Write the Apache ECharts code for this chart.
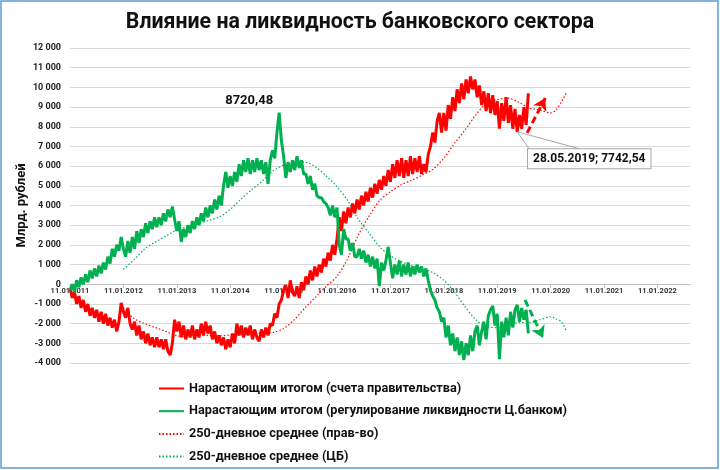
<!DOCTYPE html>
<html>
<head>
<meta charset="utf-8">
<script src="https://cdn.jsdelivr.net/npm/echarts@6/dist/echarts.min.js"></script>
<style>html,body{margin:0;padding:0;background:#fff}#c{width:720px;height:470px}</style>
</head>
<body>
<div id="c"></div>
<script>
// x positions are years elapsed since 11.01.2011
var startYear = 2011;
var xTickYears = [2011,2012,2013,2014,2015,2016,2017,2018,2019,2020,2021,2022];
var stepsPerYear = 24; // raw series sampled twice a month

var govValues = [
 -200,-700,-400,-1000,-600,-1200,-800,-1400,-1000,-1600,-1200,-1700,-1300,-1900,-1400,-2000,-1500,-2100,-1700,-2200,-1800,-2400,-1900,-950,
 -1400,-1700,-1200,-2000,-2300,-1900,-2600,-2100,-2800,-2400,-3000,-2500,-3100,-2700,-3200,-2700,-3200,-2800,-3300,-2800,-3400,-3600,-3000,-1800,
 -2400,-1900,-2700,-2100,-2800,-2300,-2700,-2100,-2800,-2300,-2700,-2000,-2600,-1900,-2500,-2100,-2800,-2400,-3000,-2600,-3100,-2700,-3300,-2800,
 -3200,-2500,-3000,-2000,-2600,-2100,-2700,-2200,-2600,-2100,-2800,-2300,-2700,-2900,-2300,-2700,-2200,-2600,-2000,-2100,-1500,-1700,-1000,-800,
 -300,-50,-700,200,-400,-600,-100,-700,100,-300,400,0,700,200,900,400,1000,600,1300,900,1600,1200,2000,1500,
 2300,3400,2700,3700,3100,3900,3400,4100,3600,4300,3800,4500,4000,4700,4200,4900,4400,5100,4600,5300,4800,5500,5000,5800,
 5200,6100,5400,6300,5500,6400,5400,6300,5500,6500,5600,6400,5700,6500,5600,6100,5700,6600,7000,7700,7200,8300,8700,7700,
 8700,7800,9100,8400,9500,8800,9900,9200,10200,9400,10400,9700,10550,9900,10400,9500,10100,9100,9800,8800,9700,8700,9600,8600,
 9300,7900,9200,8300,9500,8200,9100,7900,8900,7742.54,8600,7900,9000,8100,9700
];
var cbValues = [
 -300,0,-400,200,-150,350,0,500,100,700,300,800,400,950,550,1100,750,1400,1050,1800,1400,2000,1700,2400,
 1800,1400,2200,1600,2400,1800,2700,2100,2800,2400,3100,2600,3200,2800,3400,2900,3400,3000,3600,3200,3800,3400,3950,3300,
 2700,3200,2150,2800,2400,3000,2600,3200,2800,3400,3000,3600,3200,3900,3400,4000,3600,4300,3800,4500,4000,5000,5700,4900,
 5500,5000,5700,5200,6100,5500,6300,5700,6400,5600,6300,5700,6400,5800,6300,5600,6200,5100,6300,6800,6400,7700,8720.48,7300,
 6500,5400,6200,5700,6300,5800,6500,5900,6300,5600,5600,5100,5500,4800,5100,4500,4400,4400,4200,4100,3900,3500,4000,3400,
 3900,2000,1500,2800,2300,2300,1700,2100,1400,1400,1800,1300,1700,1100,1500,900,1400,800,1300,-100,1100,700,1200,1900,
 1100,300,1000,500,1200,400,1000,500,1100,400,900,500,1000,600,900,400,800,200,-300,-600,-800,-1200,-1400,-1900,
 -1700,-2700,-2100,-3100,-2500,-3400,-2700,-3600,-2900,-3850,-3000,-3600,-2600,-3400,-2400,-2100,-3100,-2400,-1900,-2800,-1600,-1300,-1100,-2100,
 -1500,-3800,-1900,-2700,-1700,-2600,-1400,-2200,-1300,-1050,-1900,-1200,-1800,-1300,-2500
];
var maT = [1.0,1.2,1.4,1.6,1.8,2.0,2.2,2.4,2.6,2.8,3.0,3.2,3.4,3.6,3.8,4.0,4.2,4.4,4.6,4.8,5.0,5.2,5.4,5.6,5.8,6.0,6.2,6.4,6.6,6.8,7.0,7.2,7.4,7.6,7.8,8.0,8.2,8.4,8.6,8.8,9.0,9.1,9.2,9.29];
var govMA = [-1200,-1750,-2000,-2200,-2400,-2620,-2650,-2550,-2600,-2620,-2580,-2560,-2520,-2480,-2450,-2250,-1800,-1200,-650,-100,400,1300,2500,3450,4250,4700,5050,5280,5550,5850,6400,7150,7850,8600,9200,9380,9450,9250,8950,8850,8700,8850,9250,9700];
var cbMA = [750,1250,1800,2150,2450,2760,2920,3080,3250,3420,3800,4320,4800,5250,5750,6050,6180,6200,5950,5500,4950,4250,3300,2600,1900,1450,1150,950,800,580,200,-400,-1150,-1800,-2150,-2200,-2050,-1950,-1950,-1800,-1650,-1750,-1900,-2350];

var seriesNames = [
 'Нарастающим итогом (счета правительства)',
 'Нарастающим итогом (регулирование ликвидности Ц.банком)',
 '250-дневное среднее (прав-во)',
 '250-дневное среднее (ЦБ)'
];
// annotations (data coordinates)
var peakPoint = [3 + 22/24, 8720.48];
var peakLabel = '8720,48';
var lowPoint = [8 + 9/24, 7742.54];
var lowLabel = '28.05.2019; 7742,54';
var calloutCorners = [[8.60, 6875], [9.55, 6875]];
var redArrow = [[8.56, 7690], [8.90, 9460]];
var greenArrow = [[8.52, -800], [8.86, -2730]];

function pairs(xs, ys) { return ys.map(function (v, i) { return [xs[i], v]; }); }
var rawT = govValues.map(function (v, i) { return i / stepsPerYear; });

var RED = '#ff0000', GREEN = '#00b050';
var FONT = 'Roboto';

function fmtY(v) {
  var s = String(Math.abs(v));
  if (s.length > 3) s = s.slice(0, s.length - 3) + ' ' + s.slice(-3);
  return (v < 0 ? '-' : '') + s;
}

var chart = echarts.init(document.getElementById('c'), null, {renderer: 'canvas'});
chart.setOption({
  animation: false,
  backgroundColor: '#fff',
  title: {
    text: 'Влияние на ликвидность банковского сектора',
    left: 'center', top: 7,
    textStyle: {fontFamily: FONT, fontWeight: 'bold', fontSize: 21.3, color: '#111'}
  },
  graphic: [{
    type: 'rect', shape: {x: 1, y: 1, width: 717, height: 467},
    style: {fill: 'none', stroke: '#5b9bd5', lineWidth: 1.5}, silent: true
  }],
  legend: {
    orient: 'vertical', left: 153, top: 377,
    itemWidth: 25, itemHeight: 14, itemGap: 9.7,
    data: seriesNames,
    itemStyle: {color: 'rgba(0,0,0,0)', borderColor: 'rgba(0,0,0,0)', borderWidth: 0},
    textStyle: {fontFamily: FONT, fontWeight: 'bold', fontSize: 12.7, color: '#111'}
  },
  grid: {left: 70, right: 30, top: 48, bottom: 107, containLabel: false},
  xAxis: {
    type: 'value', min: 0, max: 11.61, interval: 1, position: 'bottom', offset: -78.75,
    axisLine: {onZero: false, lineStyle: {color: '#bfbfbf'}},
    axisTick: {show: true, length: 4, lineStyle: {color: '#bfbfbf'}},
    splitLine: {show: false},
    axisLabel: {
      margin: 3, showMaxLabel: false,
      fontFamily: FONT, fontWeight: 'bold', fontSize: 7.5, color: '#333',
      formatter: function (v) {
        var k = Math.round(v);
        return Math.abs(v - k) < 1e-6 && xTickYears.indexOf(startYear + k) >= 0 ? '11.01.' + (startYear + k) : '';
      }
    }
  },
  yAxis: {
    type: 'value', min: -4000, max: 12000, interval: 1000,
    name: 'Млрд. рублей', nameLocation: 'middle', nameGap: 42, nameRotate: 90, nameMoveOverlap: false,
    nameTextStyle: {fontFamily: FONT, fontWeight: 'bold', fontSize: 13, color: '#111'},
    axisLine: {show: false, onZero: false}, axisTick: {show: false},
    splitLine: {lineStyle: {color: '#d9d9d9', width: 1}},
    axisLabel: {margin: 9, fontFamily: FONT, fontWeight: 'bold', fontSize: 9, color: '#222', formatter: fmtY}
  },
  series: [
    {
      name: seriesNames[0], type: 'line', data: pairs(rawT, govValues),
      symbol: 'none', lineStyle: {color: RED, width: 3}, itemStyle: {color: RED},
      markPoint: {
        symbol: 'circle', symbolSize: 1, itemStyle: {color: 'rgba(0,0,0,0)'},
        label: {
          show: true, formatter: lowLabel, offset: [72, 27],
          fontFamily: FONT, fontWeight: 'bold', fontSize: 12, color: '#111',
          backgroundColor: '#fff', borderColor: '#a6a6a6', borderWidth: 1, padding: [4, 5, 3, 5]
        },
        data: [{coord: lowPoint}]
      },
      markLine: {
        silent: true, symbol: ['none', 'none'], label: {show: false},
        lineStyle: {color: '#a6a6a6', width: 1, type: 'solid'},
        data: [
          [{coord: lowPoint}, {coord: calloutCorners[0]}],
          [{coord: lowPoint}, {coord: calloutCorners[1]}]
        ]
      },
      z: 3
    },
    {
      name: seriesNames[1], type: 'line', data: pairs(rawT, cbValues),
      symbol: 'none', lineStyle: {color: GREEN, width: 3}, itemStyle: {color: GREEN},
      markPoint: {
        symbol: 'circle', symbolSize: 1, itemStyle: {color: 'rgba(0,0,0,0)'},
        label: {show: true, formatter: peakLabel, offset: [-30, -12],
          fontFamily: FONT, fontWeight: 'bold', fontSize: 13, color: '#111'},
        data: [{coord: peakPoint}]
      },
      z: 3
    },
    {
      name: seriesNames[2], type: 'line', data: pairs(maT, govMA), smooth: 0.3,
      symbol: 'none', lineStyle: {color: RED, width: 1.2, type: [1.5, 2]}, itemStyle: {color: RED},
      markLine: {
        silent: true, symbol: ['none', 'arrow'], symbolSize: [11, 12], label: {show: false},
        lineStyle: {color: RED, width: 3, type: [7, 4]},
        data: [[{coord: redArrow[0]}, {coord: redArrow[1]}]]
      },
      z: 2
    },
    {
      name: seriesNames[3], type: 'line', data: pairs(maT, cbMA), smooth: 0.3,
      symbol: 'none', lineStyle: {color: GREEN, width: 1.2, type: [1.5, 2]}, itemStyle: {color: GREEN},
      markLine: {
        silent: true, symbol: ['none', 'arrow'], symbolSize: [11, 12], label: {show: false},
        lineStyle: {color: GREEN, width: 3, type: [7, 4]},
        data: [[{coord: greenArrow[0]}, {coord: greenArrow[1]}]]
      },
      z: 2
    }
  ]
});
</script>
</body>
</html>
